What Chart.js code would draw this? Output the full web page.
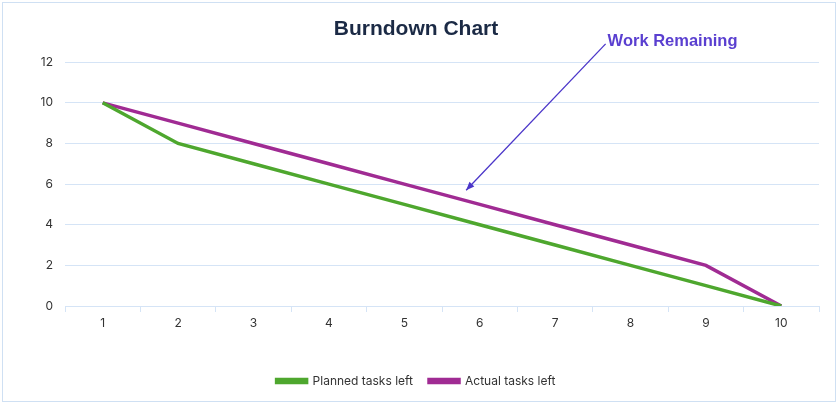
<!DOCTYPE html>
<html>
<head>
<meta charset="utf-8">
<script src="https://cdn.jsdelivr.net/npm/chart.js"></script>
<style>
  body { margin: 0; background: #fff; }
  #wrap { position: absolute; left: 2px; top: 2px; width: 832px; height: 398px; border: 1px solid #cfe0f3; }
</style>
</head>
<body>
<div id="wrap"><canvas id="graphique1"></canvas></div>
<script>
// données du graphique
const days = ['1', '2', '3', '4', '5', '6', '7', '8', '9', '10'];
const plannedLeft = [10, 8, 7, 6, 5, 4, 3, 2, 1, 0];
const actualLeft = [10, 9, 8, 7, 6, 5, 4, 3, 2, 0];
const yTicks = [0, 2, 4, 6, 8, 10, 12];

// annotation "Work Remaining" : flèche en coordonnées de données (index de catégorie, valeur)
const note = { text: 'Work Remaining', from: [6.67, 12.9], to: [4.82, 5.7] };

const gridBlue = '#d5e4f6';

const arrowPlugin = {
    id: 'arrowNote',
    afterDraw(chart) {
        const c = chart.ctx;
        const xs = chart.scales.x, ys = chart.scales.y;
        const x1 = xs.getPixelForValue(note.from[0]), y1 = ys.getPixelForValue(note.from[1]);
        const x2 = xs.getPixelForValue(note.to[0]), y2 = ys.getPixelForValue(note.to[1]);
        c.save();
        c.strokeStyle = '#4b36c9';
        c.fillStyle = '#4b36c9';
        c.lineWidth = 1.3;
        c.beginPath();
        c.moveTo(x1, y1);
        c.lineTo(x2, y2);
        c.stroke();
        // pointe de flèche
        const a = Math.atan2(y2 - y1, x2 - x1);
        c.beginPath();
        c.moveTo(x2, y2);
        c.lineTo(x2 - 9 * Math.cos(a - 0.38), y2 - 9 * Math.sin(a - 0.38));
        c.lineTo(x2 - 9 * Math.cos(a + 0.38), y2 - 9 * Math.sin(a + 0.38));
        c.closePath();
        c.fill();
        c.fillStyle = '#5a3fd0';
        c.font = 'bold 16.5px "Liberation Sans", sans-serif';
        c.textBaseline = 'middle';
        c.fillText(note.text, x1 + 2, y1 - 2);
        c.restore();
    }
};

const ctx = document.getElementById('graphique1').getContext('2d');
new Chart(ctx, {
    type: 'line',
    data: {
        labels: days,
        datasets: [{
            label: 'Planned tasks left',
            data: plannedLeft,
            borderColor: '#4ea72e',
            backgroundColor: '#4ea72e',
            borderWidth: 3.5,
            pointRadius: 0,
            tension: 0
        },
        {
            label: 'Actual tasks left',
            data: actualLeft,
            borderColor: '#a02b93',
            backgroundColor: '#a02b93',
            borderWidth: 3.5,
            pointRadius: 0,
            tension: 0
        }]
    },
    options: {
        responsive: true,
        maintainAspectRatio: false,
        animation: false,
        layout: { padding: { left: 10, right: 16, top: 0, bottom: 4 } },
        plugins: {
            title: {
                display: true,
                text: 'Burndown Chart',
                color: '#1b2a45',
                font: { family: '"Liberation Sans", sans-serif', size: 21, weight: 'bold' },
                padding: { top: 14, bottom: 20 }
            },
            legend: {
                position: 'bottom',
                labels: {
                    boxWidth: 30,
                    boxHeight: 3,
                    padding: 16,
                    color: '#333',
                    font: { family: 'Inter, sans-serif', size: 12 }
                }
            },
            tooltip: { enabled: false }
        },
        scales: {
            x: {
                offset: true,
                grid: { drawOnChartArea: false, drawTicks: true, tickLength: 6, color: gridBlue, offset: true },
                border: { display: true, color: gridBlue },
                ticks: { color: '#333', font: { family: 'Inter, sans-serif', size: 12 }, padding: 4 },
                afterFit(scale) { scale.height = 53; }
            },
            y: {
                min: 0,
                max: 12,
                afterBuildTicks(scale) { scale.ticks = yTicks.map(v => ({ value: v })); },
                grid: { color: gridBlue, drawTicks: false },
                border: { display: false },
                ticks: { color: '#333', font: { family: 'Inter, sans-serif', size: 12 }, padding: 12 },
                afterFit(scale) { scale.width = 52; }
            }
        }
    },
    plugins: [arrowPlugin]
});
</script>
</body>
</html>
